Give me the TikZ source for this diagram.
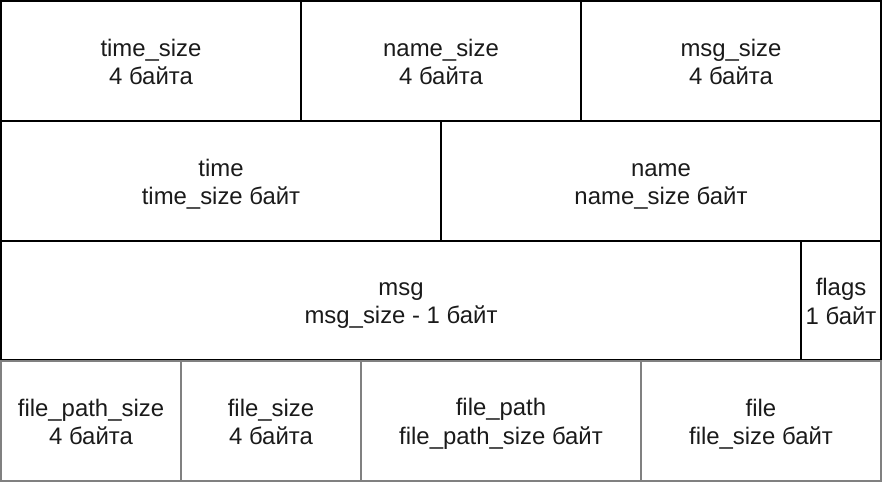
\documentclass[tikz,border=0pt]{standalone}
\usepackage{fontspec}
\setmainfont{Liberation Sans}
\definecolor{cellgray}{HTML}{808080}
\definecolor{celltext}{HTML}{1A1A1A}
% one label line with a fixed height and depth
\newcommand{\cellline}[1]{\rule[-4bp]{0pt}{27bp}#1}
\begin{document}
\begin{tikzpicture}[x=1bp,y=-1bp,
  cell/.style={draw, anchor=north west, inner sep=0pt, outer sep=0pt,
    align=center, text=celltext, font=\fontsize{24}{27}\selectfont},
  main/.style={cell, line width=2bp, draw=black},
  extra/.style={cell, line width=1.5bp, draw=cellgray}]
\useasboundingbox (0,0) rectangle (882,482);
% row 1: size fields
\node[main, minimum width=300bp, minimum height=120bp] (tsize) at (1,1) {\cellline{time\_size}\\\cellline{4 байта}};
\node[main, minimum width=280bp, minimum height=120bp] (nsize) at (301,1) {\cellline{name\_size}\\\cellline{4 байта}};
\node[main, minimum width=300bp, minimum height=120bp] (msize) at (581,1) {\cellline{msg\_size}\\\cellline{4 байта}};
% row 2: time and name
\node[main, minimum width=440bp, minimum height=120bp] (time) at (1,121) {\cellline{time}\\\cellline{time\_size байт}};
\node[main, minimum width=440bp, minimum height=120bp] (name) at (441,121) {\cellline{name}\\\cellline{name\_size байт}};
% row 3: message and flags
\node[main, minimum width=800bp, minimum height=119bp] (msg) at (1,241) {\cellline{msg}\\\cellline{msg\_size - 1 байт}};
\node[main, minimum width=80bp, minimum height=119bp] (flags) at (801,241) {\cellline{flags}\\\cellline{1 байт}};
% row 4: optional file attachment
\node[extra, minimum width=180bp, minimum height=120bp] (fpsize) at (1,361) {\cellline{file\_path\_size}\\\cellline{4 байта}};
\node[extra, minimum width=180bp, minimum height=120bp] (fsize) at (181,361) {\cellline{file\_size}\\\cellline{4 байта}};
\node[extra, minimum width=280bp, minimum height=120bp] (fpath) at (361,361) {\cellline{file\_path}\\\cellline{file\_path\_size байт}};
\node[extra, minimum width=240bp, minimum height=120bp] (file) at (641,361) {\cellline{file}\\\cellline{file\_size байт}};
\end{tikzpicture}
\end{document}
